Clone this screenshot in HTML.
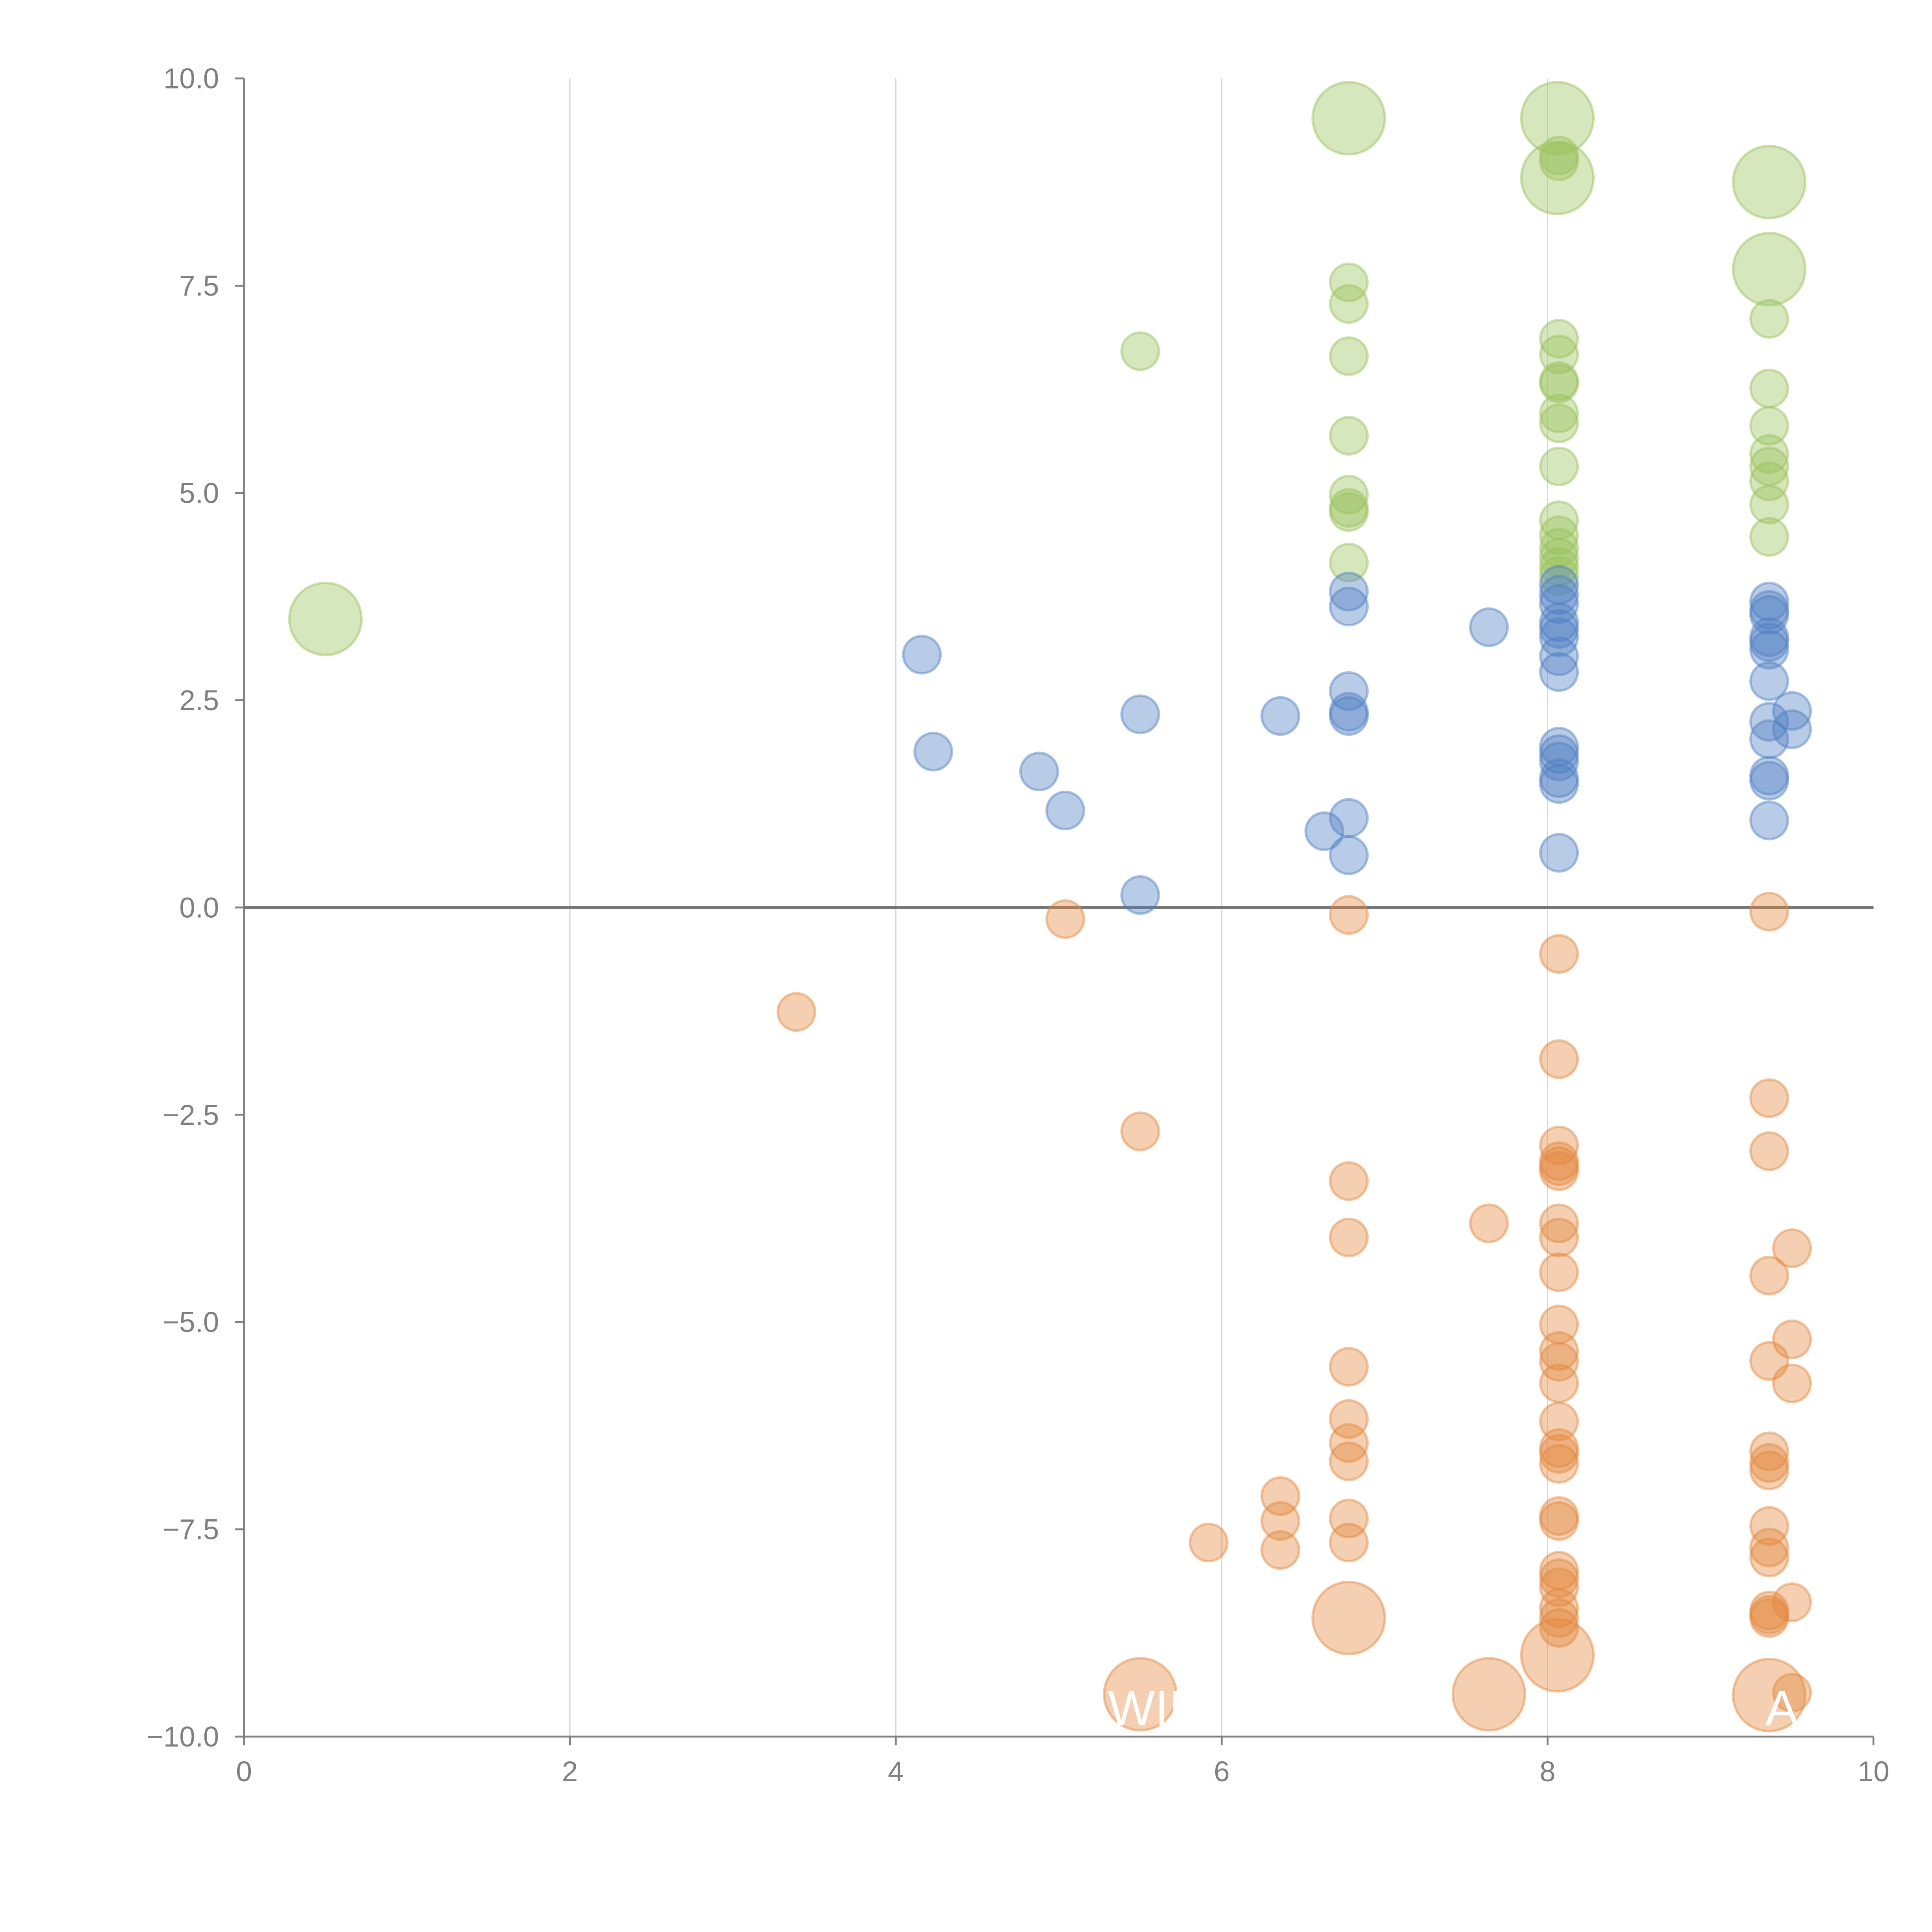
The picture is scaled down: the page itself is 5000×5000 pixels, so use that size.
<!DOCTYPE html>
<html><head><meta charset="utf-8"><style>
html,body{margin:0;padding:0;background:#fff;}
svg{display:block;}
text{font-family:"Liberation Sans",Arial,sans-serif;}
</style></head><body>
<svg id="chart" width="5000" height="5000" viewBox="0 0 1552 1552" xmlns="http://www.w3.org/2000/svg">
<g id="grid"></g>
<g id="axes"></g>
<g id="marks"></g>
<text x="890" y="1386" fill="#fff" font-size="40">WIN</text>
<text x="1418" y="1386" fill="#fff" font-size="40">A</text>
</svg>
<script>
const xTicks=[0,2,4,6,8,10];
const yTicks=[-10,-7.5,-5,-2.5,0,2.5,5,7.5,10];
const greenX=[0.5,6.78,8.06,8.06,9.36,9.36,5.5,6.78,6.78,6.78,6.78,6.78,6.78,6.78,6.78,8.07,8.07,8.07,8.07,8.07,8.07,8.07,8.07,8.07,8.07,8.07,8.07,8.07,8.07,8.07,9.36,9.36,9.36,9.36,9.36,9.36,9.36,9.36];
const greenY=[3.48,9.52,9.52,8.8,8.75,7.7,6.71,7.54,7.28,6.65,5.69,4.98,4.82,4.77,4.16,9.07,9.0,6.86,6.67,6.35,6.32,5.96,5.84,5.32,4.67,4.49,4.34,4.22,4.11,4.0,7.1,6.26,5.81,5.47,5.32,5.14,4.86,4.47];
const greenS=[2,2,2,2,2,2,1,1,1,1,1,1,1,1,1,1,1,1,1,1,1,1,1,1,1,1,1,1,1,1,1,1,1,1,1,1,1,1];
const blueX=[4.16,4.23,4.88,5.04,5.5,5.5,6.36,6.63,6.78,6.78,6.78,6.78,6.78,6.78,6.78,7.64,8.07,8.07,8.07,8.07,8.07,8.07,8.07,8.07,8.07,8.07,8.07,8.07,8.07,8.07,9.36,9.36,9.36,9.36,9.36,9.36,9.36,9.36,9.36,9.36,9.36,9.36,9.5,9.5];
const blueY=[3.05,1.88,1.64,1.17,2.33,0.15,2.31,0.92,3.81,3.63,2.61,2.36,2.31,1.08,0.63,3.38,3.89,3.77,3.66,3.44,3.36,3.26,3.03,2.84,1.94,1.85,1.76,1.56,1.49,0.66,3.69,3.59,3.53,3.26,3.2,3.11,2.73,2.24,2.03,1.59,1.53,1.05,2.37,2.15];
const orangeX=[3.39,5.04,5.5,5.92,6.36,6.36,6.36,6.78,6.78,6.78,6.78,6.78,6.78,6.78,6.78,6.78,6.78,7.64,7.64,5.5,8.07,8.07,8.07,8.07,8.07,8.07,8.07,8.07,8.07,8.07,8.07,8.07,8.07,8.07,8.07,8.07,8.07,8.07,8.07,8.07,8.07,8.07,8.07,8.07,8.07,8.06,9.36,9.36,9.36,9.36,9.36,9.36,9.36,9.36,9.36,9.36,9.36,9.36,9.36,9.36,9.36,9.5,9.5,9.5,9.5,9.5];
const orangeY=[-1.26,-0.14,-2.7,-7.66,-7.1,-7.4,-7.75,-0.09,-3.3,-3.98,-5.54,-6.17,-6.46,-6.68,-7.37,-7.66,-8.57,-3.81,-9.49,-9.49,-0.56,-1.83,-2.87,-3.06,-3.12,-3.18,-3.81,-3.98,-4.4,-5.03,-5.35,-5.48,-5.74,-6.2,-6.52,-6.59,-6.71,-7.34,-7.4,-8.0,-8.09,-8.2,-8.45,-8.57,-8.69,-9.02,-0.05,-2.3,-2.94,-4.44,-5.47,-6.56,-6.7,-6.79,-7.46,-7.72,-7.84,-8.48,-8.53,-8.57,-9.5,-4.11,-5.21,-5.74,-8.38,-9.47];
const orangeS=[1,1,1,1,1,1,1,1,1,1,1,1,1,1,1,1,2,1,2,2,1,1,1,1,1,1,1,1,1,1,1,1,1,1,1,1,1,1,1,1,1,1,1,1,1,2,1,1,1,1,1,1,1,1,1,1,1,1,1,1,2,1,1,1,1,1];

const X0=196,X1=1505,Y0=1395,Y1=63;
const sx=v=>X0+(v-0)/(10-0)*(X1-X0);
const sy=v=>Y0-(v+10)/20*(Y0-Y1);
const NS="http://www.w3.org/2000/svg";
function mk(tag,attrs,parent){const e=document.createElementNS(NS,tag);for(const k in attrs)e.setAttribute(k,attrs[k]);parent.appendChild(e);return e;}
const grid=document.getElementById('grid'),axes=document.getElementById('axes'),marks=document.getElementById('marks');
xTicks.forEach(t=>{
  if(t>0&&t<10){const g=mk('line',{x1:sx(t),x2:sx(t),y1:Y1,y2:Y0,stroke:'#d6d6d6','stroke-width':1},grid);
  
  }
  const tk=mk('line',{x1:sx(t),x2:sx(t),y1:Y0,y2:Y0+7,stroke:'#808080','stroke-width':1.5},axes);
  
  
  const tx=mk('text',{x:sx(t),y:Y0+36,'text-anchor':'middle','font-size':23,fill:'#808080'},axes);
  tx.textContent=String(t);
  
  
});
yTicks.forEach(t=>{
  const tk=mk('line',{x1:X0-7,x2:X0,y1:sy(t),y2:sy(t),stroke:'#808080','stroke-width':1.5},axes);
  
  
  const tx=mk('text',{x:X0-20,y:sy(t)+8,'text-anchor':'end','font-size':23,fill:'#808080'},axes);
  tx.textContent=t.toFixed(1).replace('-','\u2212');
  
  
});
const ya=mk('line',{x1:X0,x2:X0,y1:Y1,y2:Y0,stroke:'#808080','stroke-width':1.5},axes);


const xa=mk('line',{x1:X0,x2:X1,y1:Y0,y2:Y0,stroke:'#808080','stroke-width':1.5},axes);


const zl=mk('line',{x1:X0,x2:X1,y1:sy(0),y2:sy(0),stroke:'#777','stroke-width':2.5},axes);



function series(xs,ys,ss,color,name){
  xs.forEach((x,i)=>{
    const r=(ss&&ss[i]===2)?29:15;
    const c=mk('circle',{cx:sx(x),cy:sy(ys[i]),r:r,fill:color,'fill-opacity':0.4,stroke:color,'stroke-opacity':0.45,'stroke-width':2},marks);
    
    
  });
}
series(greenX,greenY,greenS,'#98c05a','green-bubble');
series(blueX,blueY,null,'#4f7fc4','blue-bubble');
series(orangeX,orangeY,orangeS,'#e3883d','orange-bubble');
</script>
</body></html>
